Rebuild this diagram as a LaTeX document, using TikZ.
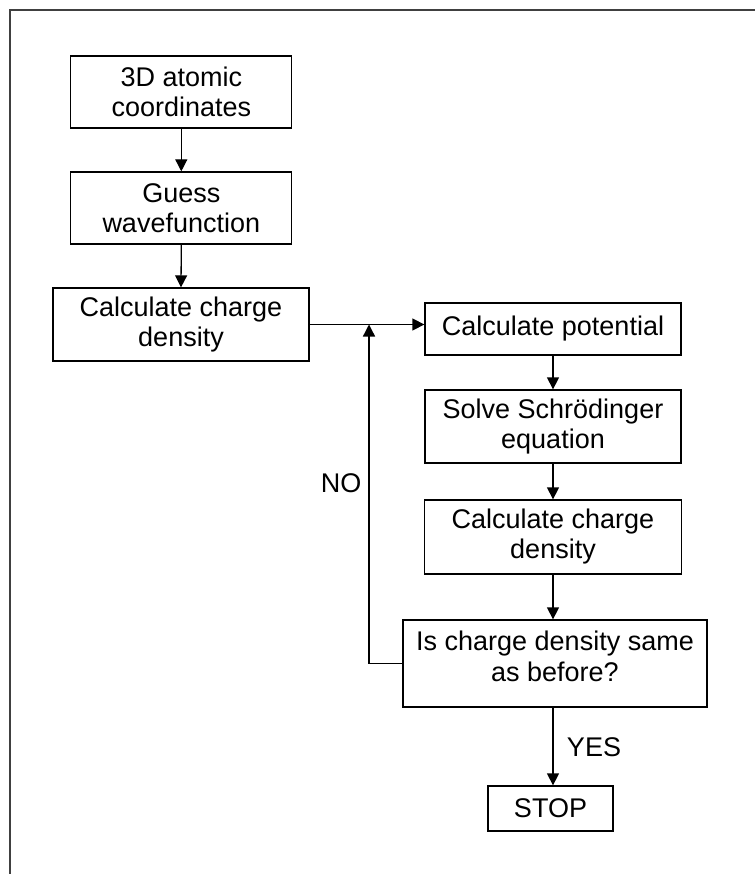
\documentclass[tikz,border=0pt]{standalone}
\usepackage{fontspec}
\setmainfont{Liberation Sans}
\usetikzlibrary{arrows.meta}
\begin{document}
\begin{tikzpicture}[x=1pt,y=-1pt,
  box/.style={draw, line width=1.3pt, rectangle, inner sep=0pt, align=center,
    font=\fontsize{27}{30}\selectfont},
  lbl/.style={inner sep=0pt, font=\fontsize{27}{30}\selectfont},
  arr/.style={line width=1.3pt, -{Triangle[length=12pt,width=12pt]}},
  ln/.style={line width=1.3pt}]
\useasboundingbox (0,0) rectangle (755,874);
\draw[line width=1.4pt, black!75] (10,874) -- (10,10) -- (755,10);
\node[box, minimum width=221pt, minimum height=72pt] (b1) at (181.3,92) {3D atomic\\coordinates};
\node[box, minimum width=221pt, minimum height=72pt] (b2) at (181.3,208) {Guess\\wavefunction};
\node[box, minimum width=256pt, minimum height=73pt] (b3) at (181,324.5) {Calculate charge\\density};
\node[box, minimum width=256pt, minimum height=52pt] (b4) at (553,329) {Calculate potential};
\node[box, minimum width=256pt, minimum height=73pt] (b5) at (553,426.5) {Solve Schrödinger\\equation};
\node[box, minimum width=257pt, minimum height=74pt] (b6) at (553,537) {Calculate charge\\density};
\node[box, minimum width=304pt, minimum height=87pt, text depth=15pt] (b7) at (555,663.5) {Is charge density same\\[1pt]as before?};
\node[box, minimum width=125pt, minimum height=45pt] (b8) at (550.5,808.5) {STOP};
\coordinate (j) at (369,324.5);
\node[lbl] (no) at (341,483) {NO};
\node[lbl] (yes) at (594,747) {YES};
\draw[arr] (b1.south) -- (b2.north);
\draw[arr] (b2.south) -- (b3.north);
\draw[arr] (b3.east) -- (b3.east -| b4.west);
\draw[arr] (b4.south -| 553,0) -- (b5.north -| 553,0);
\draw[arr] (b5.south -| 553,0) -- (b6.north -| 553,0);
\draw[arr] (b6.south -| 553,0) -- (b7.north -| 553,0);
\draw[arr] (b7.south -| 553,0) -- (b8.north -| 553,0);
\draw[arr] (b7.west) -| (j);
\end{tikzpicture}
\end{document}
